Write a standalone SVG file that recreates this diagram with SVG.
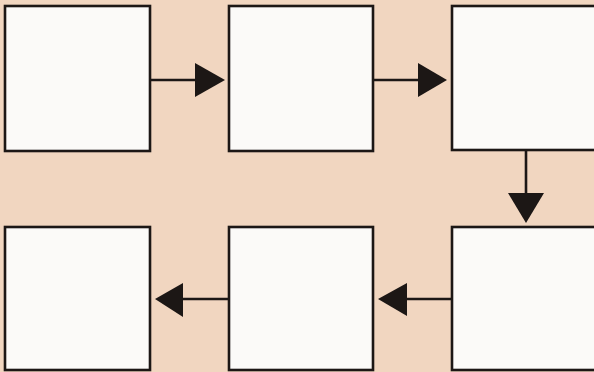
<svg xmlns="http://www.w3.org/2000/svg" width="594" height="372" viewBox="0 0 594 372">
<defs>
<style>
.box{fill:#fbfaf8;stroke:#1c1715;stroke-width:2.6}
.line{stroke:#1c1715;stroke-width:2.6;fill:none}
.head{fill:#1c1715}
</style>
</defs>
<rect x="0" y="0" width="594" height="372" fill="#f1d6c0"/>
<g id="box1"><rect class="box" x="5" y="6" width="145" height="145"/></g>
<g id="box2"><rect class="box" x="229" y="6" width="144" height="145"/></g>
<g id="box3"><rect class="box" x="452" y="6" width="150" height="144"/></g>
<g id="box4"><rect class="box" x="452" y="227" width="150" height="143"/></g>
<g id="box5"><rect class="box" x="229" y="227" width="144" height="143"/></g>
<g id="box6"><rect class="box" x="5" y="227" width="145" height="143"/></g>
<g id="connectors">
<line class="line" x1="150" y1="80" x2="197" y2="80"/>
<polygon class="head" points="195,63 225,80 195,97"/>
<line class="line" x1="373" y1="80" x2="420" y2="80"/>
<polygon class="head" points="418,63 447,80 418,97"/>
<line class="line" x1="526" y1="150" x2="526" y2="195"/>
<polygon class="head" points="508,193 544,193 526,223"/>
<line class="line" x1="452" y1="299" x2="405" y2="299"/>
<polygon class="head" points="407,283 378,299 407,316"/>
<line class="line" x1="229" y1="299" x2="181" y2="299"/>
<polygon class="head" points="183,283 155,299 183,317"/>
</g>
</svg>
